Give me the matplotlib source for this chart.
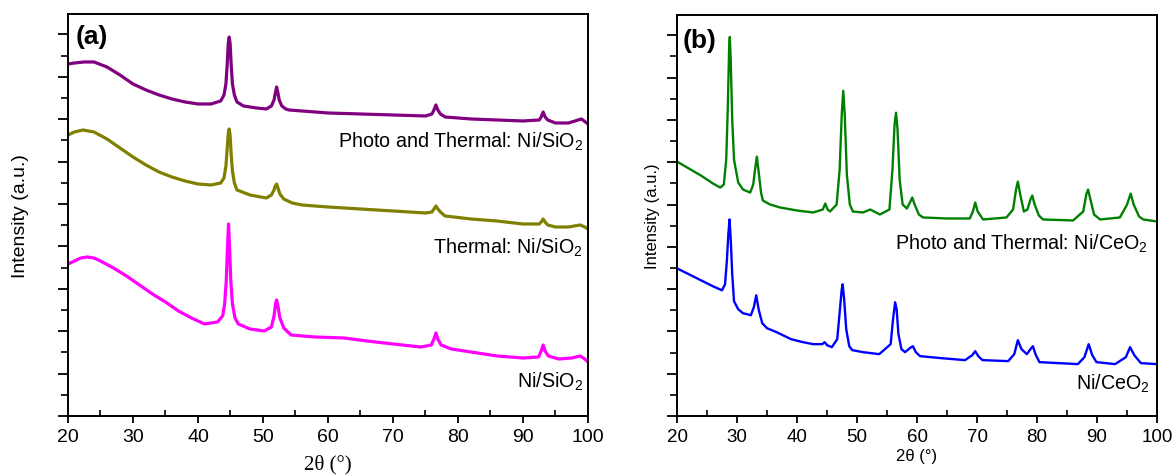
"""
XRD patterns of the Ni/SiO2 and Ni/CeO2 catalysts, fresh vs. after
thermal and photo-thermal runs. Curves are stacked with vertical offsets.
"""
import matplotlib
matplotlib.use("Agg")
import matplotlib.pyplot as plt
from matplotlib.ticker import MultipleLocator

plt.rcParams["font.family"] = ["Liberation Sans", "DejaVu Sans"]
plt.rcParams["mathtext.fontset"] = "custom"
plt.rcParams["mathtext.rm"] = "Liberation Sans"
plt.rcParams["mathtext.it"] = "Liberation Sans:italic"

# ---- (a) Ni/SiO2, intensity in a.u. with stacking offset included ----
sio2_pt_x = [20, 21, 22.5, 24, 26, 28, 30, 32, 34, 36, 38, 40, 42, 43.5, 44.0, 44.3,
             44.5, 44.65, 44.8, 44.95, 45.1, 45.3, 45.6, 46.0, 47, 49, 50.5, 51.3,
             51.7, 51.9, 52.1, 52.3, 52.5, 52.9, 53.5, 54, 56, 60, 65, 70, 75, 76.0,
             76.3, 76.6, 76.9, 77.3, 78, 82, 86, 90, 92.5, 92.8, 93.1, 93.4, 93.8,
             95, 97, 98.5, 99, 99.6, 100]
sio2_pt_y = [352, 353, 354, 354, 349, 341, 332, 326, 321, 317, 314, 312, 312, 315, 321, 332,
             352, 372, 379, 372, 352, 332, 321, 314, 310, 308, 307, 310,
             316, 323, 329, 323, 316, 310, 307, 306, 305, 303, 302, 301, 300, 302,
             306, 311, 306, 302, 299, 297, 296, 295, 296, 299, 304, 299, 296,
             293, 293, 296, 297, 294, 292]

sio2_t_x = [20, 21, 22.3, 24, 26, 28, 30, 32, 34, 36, 38, 40, 42, 43.5, 44.0, 44.3,
            44.5, 44.65, 44.8, 44.95, 45.1, 45.3, 45.6, 46.0, 48, 50.5, 51.3, 51.7,
            51.9, 52.1, 52.3, 52.6, 53.2, 54.5, 56, 60, 65, 70, 75, 76.0, 76.3, 76.6,
            76.9, 77.3, 78, 82, 86, 90, 92.5, 92.8, 93.1, 93.4, 93.8, 95, 97, 98.8,
            99.5, 100]
sio2_t_y = [281, 284, 286, 284, 277, 268, 259, 251, 244, 239, 235, 232, 231, 233, 238, 250,
            268, 282, 287, 280, 262, 245, 233, 226, 221, 218, 221, 226,
            230, 232, 228, 222, 217, 213, 211, 209, 207, 205, 203, 204, 207, 210,
            207, 204, 200, 197, 195, 192, 192, 194, 197, 194, 191, 189, 189, 191,
            189, 187]

sio2_x = [20, 21, 22, 23, 24, 25, 27, 29, 31, 33, 35, 37, 39, 41, 43, 43.8, 44.1, 44.35,
          44.55, 44.7, 44.85, 45.05, 45.3, 45.7, 46.2, 48, 50.2, 51.3, 51.7, 51.95,
          52.1, 52.3, 52.6, 53.2, 54.3, 58, 62.5, 66, 70, 74.3, 75.9, 76.3, 76.6,
          76.9, 77.4, 79, 83, 86, 90, 92.4, 92.8, 93.1, 93.4, 93.9, 95.5, 97.5,
          98.8, 99.5, 100]
sio2_y = [152, 155, 158, 159, 158, 155, 148, 140, 131, 122, 114, 105, 98, 92, 94, 100,
          112, 135, 170, 192, 170, 135, 112, 98, 92, 87, 85, 89, 100, 113,
          116, 110, 98, 88, 81, 79, 78, 75, 72, 69, 71, 77, 83,
          77, 71, 67, 63, 60, 58, 59, 65, 71, 65, 60, 57, 58,
          60, 57, 54]

# ---- (b) Ni/CeO2 ----
ceo2_pt_x = [20, 22, 24, 26, 27.2, 27.8, 28.2, 28.45, 28.7, 28.8, 28.95, 29.2, 29.5,
             30.2, 31.0, 32.2, 32.7, 33.0, 33.3, 33.6, 34.0, 34.3, 35.5, 37.2, 40,
             42.7, 44.3, 44.7, 45.1, 45.5, 46.6, 47.1, 47.45, 47.7, 47.95, 48.3, 48.8,
             49.3, 51, 52.2, 53.8, 55.4, 55.9, 56.25, 56.5, 56.75, 57.1, 57.6, 58.3,
             58.9, 59.2, 59.6, 60.3, 61, 65, 68.8, 69.3, 69.7, 70.1, 71, 74.9, 76.0,
             76.5, 76.8, 77.2, 77.8, 78.4, 78.9, 79.2, 79.6, 80.3, 81, 86, 87.7, 88.2,
             88.5, 88.9, 89.5, 90.5, 93.8, 95.0, 95.6, 96.1, 97.0, 97.7, 100]
ceo2_pt_y = [255, 248, 241, 233, 229, 232, 257, 307, 372, 380, 357, 297, 257,
             234, 227, 224, 232, 247, 260, 245, 224, 216, 212, 209, 206,
             204, 207, 213, 207, 205, 212, 247, 302, 326, 302, 242, 212,
             205, 204, 207, 202, 207, 247, 292, 304, 287, 237, 212, 208,
             215, 219, 212, 202, 199, 198, 198, 205, 214, 205, 197, 199, 207,
             227, 235, 222, 205, 207, 217, 221, 212, 201, 197, 196, 205, 222,
             227, 217, 202, 197, 199, 212, 223, 212, 200, 197, 195]

ceo2_x = [20, 22, 24, 26, 27.5, 28.0, 28.3, 28.55, 28.75, 28.95, 29.2, 29.5, 30.2,
          31.0, 31.7, 32.3, 32.8, 33.2, 33.6, 34.2, 35.0, 36.6, 39, 41, 42.7, 44.2,
          44.6, 45.0, 45.8, 46.7, 47.15, 47.45, 47.6, 47.85, 48.2, 48.7, 49.2, 51,
          53.7, 55.6, 56.0, 56.35, 56.6, 56.9, 57.4, 58.0, 58.8, 59.3, 59.8, 60.5,
          64, 68, 69.2, 69.7, 70.2, 70.9, 75.2, 76.2, 76.8, 77.4, 78.3, 78.9, 79.3,
          79.8, 80.4, 86.8, 87.9, 88.6, 89.2, 89.9, 93, 94.8, 95.5, 96.2, 97.3, 100]
ceo2_y = [148, 142, 136, 130, 126, 132, 155, 182, 197, 177, 142, 115, 107,
          103, 102, 101, 109, 121, 107, 93, 88, 84, 77, 74, 72, 72,
          74, 71, 69, 77, 107, 127, 132, 117, 87, 70, 66, 64,
          62, 72, 97, 114, 107, 82, 67, 64, 68, 70, 64, 60,
          58, 56, 61, 65, 60, 56, 55, 62, 76, 67, 62, 67, 70,
          61, 54, 52, 59, 72, 61, 54, 52, 59, 69, 61, 53, 52]

fig = plt.figure(figsize=(11.76, 4.77), dpi=100)
ax_a = fig.add_axes([0.0578, 0.1258, 0.4422, 0.8428])
ax_b = fig.add_axes([0.5757, 0.1258, 0.4082, 0.8407])


def style_axis(ax, tick_size):
    ax.set_xlim(20, 100)
    ax.set_ylim(0, 402)
    ax.xaxis.set_major_locator(MultipleLocator(10))
    ax.xaxis.set_minor_locator(MultipleLocator(5))
    ax.yaxis.set_major_locator(MultipleLocator(42.4))
    ax.yaxis.set_minor_locator(MultipleLocator(21.2))
    ax.tick_params(axis="x", which="major", direction="out", length=5, width=1.3,
                   labelsize=tick_size, pad=4)
    ax.tick_params(axis="x", which="minor", direction="in", length=4, width=1.2)
    ax.tick_params(axis="y", which="major", direction="out", length=7, width=1.3,
                   labelleft=False)
    ax.tick_params(axis="y", which="minor", direction="out", length=5, width=1.2)
    for sp in ax.spines.values():
        sp.set_linewidth(1.4)


# panel (a)
style_axis(ax_a, 14)
ax_a.plot(sio2_pt_x, sio2_pt_y, color="#800080", lw=2.3)
ax_a.plot(sio2_t_x, sio2_t_y, color="#808000", lw=2.3)
ax_a.plot(sio2_x, sio2_y, color="#FF00FF", lw=2.3)
ax_a.text(99.2, 275, "Photo and Thermal: Ni/SiO$_2$", ha="right", va="center", fontsize=14.2)
ax_a.text(99.2, 169, "Thermal: Ni/SiO$_2$", ha="right", va="center", fontsize=14.2)
ax_a.text(99.2, 35, "Ni/SiO$_2$", ha="right", va="center", fontsize=14.2)
ax_a.text(0.015, 0.945, "(a)", transform=ax_a.transAxes, fontsize=19,
          fontweight="bold", va="center")
ax_a.set_ylabel("Intensity (a.u.)", fontsize=14, labelpad=20)
ax_a.set_xlabel("2\u03b8 (\u00b0)", fontsize=15, family="Liberation Serif", labelpad=6)

# panel (b)
style_axis(ax_b, 13.5)
ax_b.plot(ceo2_pt_x, ceo2_pt_y, color="#008000", lw=1.7)
ax_b.plot(ceo2_x, ceo2_y, color="#0000FF", lw=1.7)
ax_b.text(98.5, 174, "Photo and Thermal: Ni/CeO$_2$", ha="right", va="center", fontsize=14.2)
ax_b.text(98.8, 33, "Ni/CeO$_2$", ha="right", va="center", fontsize=14.2)
ax_b.text(0.0125, 0.938, "(b)", transform=ax_b.transAxes, fontsize=19,
          fontweight="bold", va="center")
ax_b.set_ylabel("Intensity (a.u.)", fontsize=12, labelpad=4)
ax_b.set_xlabel("2\u03b8 (\u00b0)", fontsize=12, labelpad=2)

fig.savefig("out.png", dpi=100)
